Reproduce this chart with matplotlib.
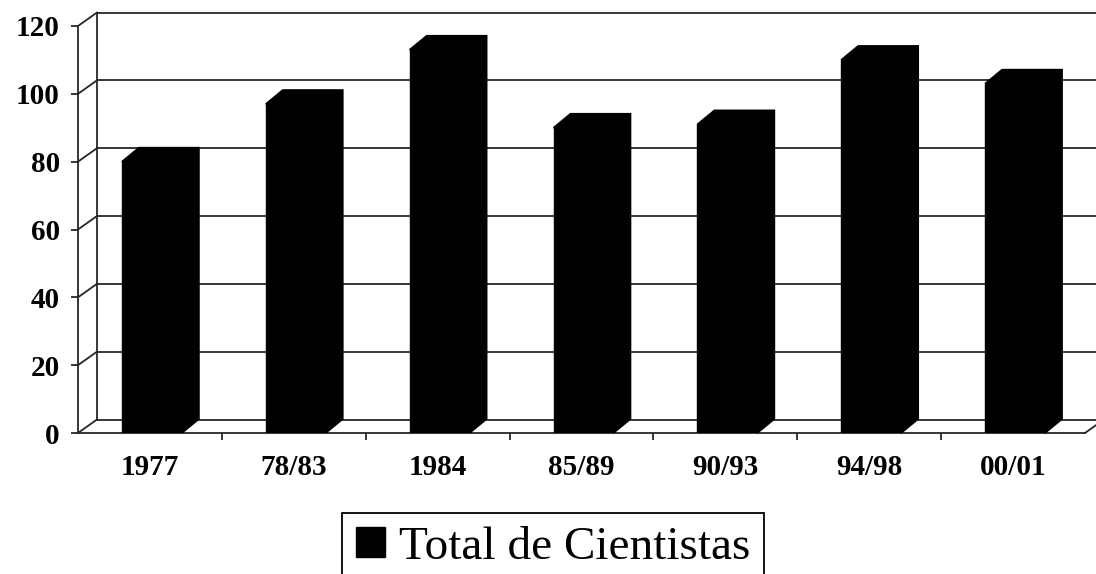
import numpy as np
import matplotlib
matplotlib.use("Agg")
import matplotlib.pyplot as plt
from matplotlib.patches import Polygon

# data
categories = ["1977", "78/83", "1984", "85/89", "90/93", "94/98", "00/01"]
valores = [80, 97, 113, 90, 91, 110, 103]
yticks = [0, 20, 40, 60, 80, 100, 120]
serie = "Total de Cientistas"

W, H = 1096, 574
fig = plt.figure(figsize=(W/100, H/100), dpi=100)
# front plane of the pseudo-3d box
ax_l, ax_b, ax_w, ax_h = 78, 574-433, 1007, 407
ax = fig.add_axes([ax_l/W, ax_b/H, ax_w/W, ax_h/H])
n = len(categories)
ax.set_xlim(0, n); ax.set_ylim(0, 120)
ax.patch.set_visible(False)

# pixel -> data offsets for the depth
px_x = n/ax_w; px_y = 120/ax_h
DX, DY = 19*px_x, 13.5*px_y     # walls
BX, BY = 17*px_x, 14*px_y       # bars
lc = "#262626"; lw = 1.3

# back wall gridlines + left edge, side wall and floor diagonals
for v in yticks:
    ax.plot([DX, n+DX+1], [v+DY, v+DY], color=lc, lw=lw, clip_on=False, zorder=1)
    ax.plot([0, DX], [v, v+DY], color=lc, lw=lw, clip_on=False, zorder=1)
ax.plot([DX, DX], [DY, 120+DY], color=lc, lw=lw, clip_on=False, zorder=1)
ax.plot([n, n+DX], [0, DY], color=lc, lw=lw, clip_on=False, zorder=1)

# bars: front face with the library, then depth faces
x = np.arange(n) + 0.5
bw = 60*px_x
bars = ax.bar(x + 2*px_x, valores, width=bw, color="black", edgecolor="black",
              linewidth=1, zorder=3, label=serie)
for r, v in zip(bars, valores):
    x0 = r.get_x(); x1 = x0 + r.get_width()
    ax.add_patch(Polygon([(x0, v), (x0+BX, v+BY), (x1+BX, v+BY), (x1+BX, BY), (x1, 0), (x1, v)],
                         closed=True, facecolor="black", edgecolor="black", lw=1.2, zorder=3, clip_on=False))

for s in ["top", "right"]:
    ax.spines[s].set_visible(False)
for s in ["left", "bottom"]:
    ax.spines[s].set_color(lc); ax.spines[s].set_linewidth(lw)

tfont = dict(family=["Liberation Serif", "DejaVu Serif"], weight="bold", size=21)
ax.set_yticks(yticks)
ax.set_yticklabels([str(t) for t in yticks], fontdict=tfont)
ax.tick_params(axis="y", length=5, width=lw, color=lc, pad=8)
ax.set_xticks(x)
ax.set_xticklabels(categories, fontdict=tfont)
ax.set_xticks(np.arange(1, n), minor=True)
ax.tick_params(axis="x", which="major", length=0, pad=15)
ax.tick_params(axis="x", which="minor", length=5, width=lw, color=lc)

leg = ax.legend(loc="upper center", bbox_to_anchor=(553/W, 1-513/H), bbox_transform=fig.transFigure,
                prop=dict(family=["Liberation Serif", "DejaVu Serif"], size=34),
                frameon=True, fancybox=False, framealpha=1, edgecolor="black",
                handlelength=0.62, handleheight=0.62, handletextpad=0.3, borderpad=0.28,
                borderaxespad=0)
leg.get_frame().set_linewidth(1.3)

fig.savefig("out.png", dpi=100)
